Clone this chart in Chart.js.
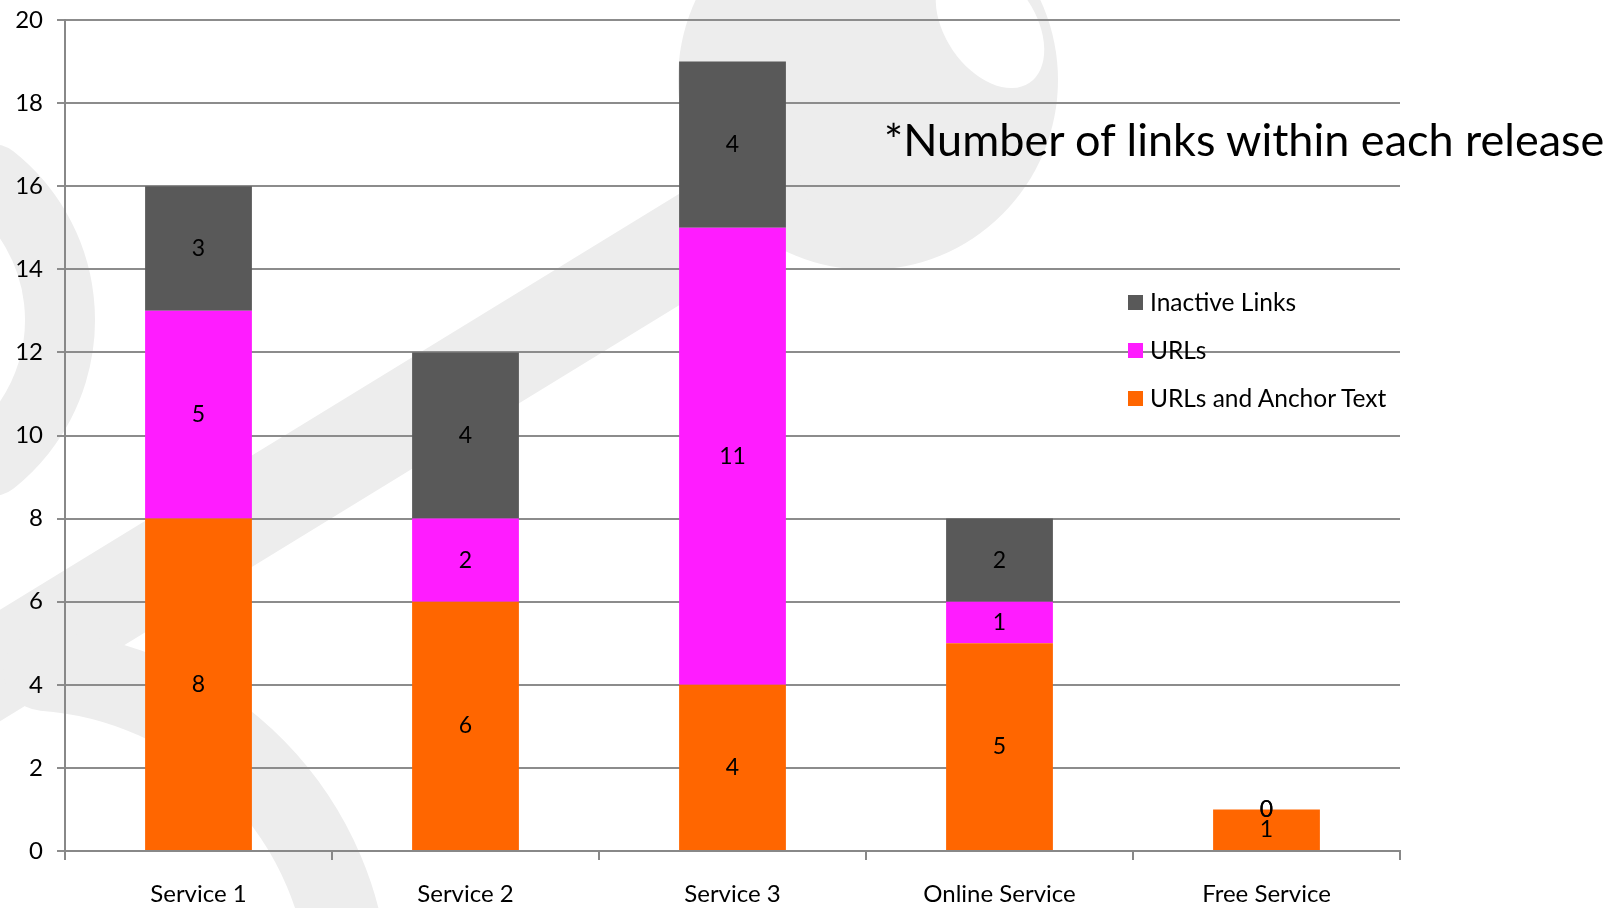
<!DOCTYPE html>
<html><head><meta charset="utf-8">
<script src="https://cdn.jsdelivr.net/npm/chart.js@4"></script>
<style>
html,body{margin:0;padding:0;background:#fff;}
#wrap{position:relative;width:1619px;height:908px;}
#title{position:absolute;left:884px;top:112px;font:45px Lato,sans-serif;color:#000;white-space:nowrap;}
#legend{position:absolute;left:1128px;top:287px;font:24.5px Lato,sans-serif;color:#000;}
#legend div{height:48px;display:flex;align-items:flex-start;}
#legend span.sw{display:inline-block;width:15px;height:15px;margin:8px 7px 0 0;}
</style></head><body>
<div id="wrap"><canvas id="c" width="1619" height="908"></canvas>
<div id="title">*Number of links within each release</div>
<div id="legend"></div></div>
<script>
const categories = ["Service 1","Service 2","Service 3","Online Service","Free Service"];
const anchorText = [8,6,4,5,1];
const urls = [5,2,11,1,0];
const inactive = [3,4,4,2,0];
const yTicks = [0,2,4,6,8,10,12,14,16,18,20];

const watermark = {
  id:'wm',
  beforeDraw(chart){
    const ctx = chart.ctx;
    ctx.save();
    ctx.fillStyle = '#ededed';
    ctx.strokeStyle = '#ededed';
    ctx.beginPath(); ctx.arc(868,80,190,0,Math.PI*2); ctx.fill();
    ctx.fillStyle='#fff';
    ctx.beginPath(); ctx.ellipse(990,25,45,70,-0.6,0,Math.PI*2); ctx.fill();
    ctx.lineWidth = 95; ctx.lineCap='round';
    ctx.beginPath(); ctx.moveTo(-40,690); ctx.lineTo(760,200); ctx.stroke();
    ctx.lineWidth = 70;
    ctx.beginPath(); ctx.arc(-120,320,180,-0.9,0.9); ctx.stroke();
    ctx.lineWidth = 80;
    ctx.beginPath(); ctx.arc(20,1000,330,-1.5,-0.05); ctx.stroke();
    ctx.restore();
  }
};
const labels = {
  id:'lbl',
  afterDatasetsDraw(chart){
    const ctx = chart.ctx;
    ctx.save();
    ctx.font = '23px Lato, sans-serif';
    ctx.fillStyle = '#000';
    ctx.textAlign='center'; ctx.textBaseline='middle';
    chart.data.datasets.forEach((ds,i)=>{
      chart.getDatasetMeta(i).data.forEach((bar,j)=>{
        ctx.fillText(String(ds.data[j]), bar.x, (bar.y+bar.base)/2);
      });
    });
    ctx.restore();
  }
};
const chart = new Chart(document.getElementById('c'),{
  type:'bar',
  data:{labels:categories,datasets:[
    {label:'URLs and Anchor Text',data:anchorText,backgroundColor:'#ff6600'},
    {label:'URLs',data:urls,backgroundColor:'#ff1cff'},
    {label:'Inactive Links',data:inactive,backgroundColor:'#595959'}
  ]},
  options:{
    responsive:false,animation:false,
    layout:{padding:{left:0,right:219,top:20,bottom:0}},
    plugins:{legend:{display:false},title:{display:false},tooltip:{enabled:false}},
    datasets:{bar:{categoryPercentage:1,barPercentage:0.4}},
    scales:{
      x:{stacked:true,
        grid:{display:true,drawOnChartArea:false,color:'#888',lineWidth:2,tickLength:9,offset:true},
        border:{color:'#888',width:2},
        ticks:{font:{family:'Lato',size:24},color:'#000',padding:20},
        afterFit(s){s.height=57;s.paddingLeft=0;s.paddingRight=0;}
      },
      y:{stacked:true,min:0,max:20,
        afterBuildTicks(s){s.ticks=yTicks.map(v=>({value:v}));},
        grid:{color:'#8c8c8c',lineWidth:2,tickLength:8},
        border:{color:'#888',width:2},
        ticks:{font:{family:'Lato',size:24},color:'#000',padding:14},
        afterFit(s){s.width=65;s.paddingTop=0;s.paddingBottom=0;}
      }
    }
  },
  plugins:[watermark,labels]
});
const lg = document.getElementById('legend');
[...chart.data.datasets].reverse().forEach(ds=>{
  const d=document.createElement('div');
  d.innerHTML='<span class="sw" style="background:'+ds.backgroundColor+'"></span>'+ds.label;
  lg.appendChild(d);
});
</script></body></html>
